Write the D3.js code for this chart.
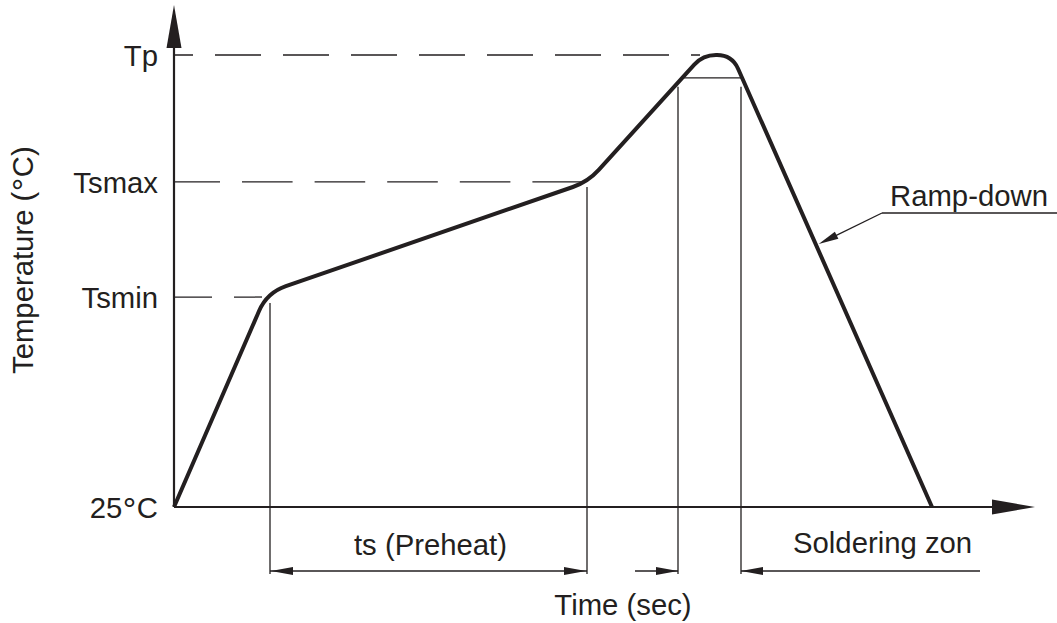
<!DOCTYPE html>
<html><head><meta charset="utf-8">
<script src="https://cdn.jsdelivr.net/npm/d3@7"></script>
<style>
html,body{margin:0;padding:0;background:#fff;}
svg{display:block;}
text{font-family:"Liberation Sans",Arial,Helvetica,sans-serif;fill:#231f20;}
</style></head>
<body>
<svg id="chart" width="1057" height="623"></svg>
<script>
// ---------- data ----------
const tempLabels = ["25°C", "Tsmin", "Tsmax", "Tp"];
const tempValues = [25, 141.6, 205.5, 276];
// reflow profile vertices (time s, temperature °C)
const profileTimes = [0, 46.5, 207, 264.5, 279, 379];
const profileTemps = [25, 144, 205.6, 276, 276, 25];
// dashed guide lines: level and end time
const guideTemps = [141.6, 205.5, 276];
const guideEndTimes = [44, 205, 263];
// vertical marker lines: time and top temperature
const markerTimes = [48, 206.5, 252, 283.5];
const markerTops = [138.3, 202.7, 258.3, 258.3];
// level Tp-5 line
const tpMinus5 = 263.3;
const tpMinus5Times = [254.1, 284.1];
// soldering zone outer arrow tails
const solderLeftTail = 230.5;
const solderRightTail = 403;
// ramp-down pointer target on curve
const rampTargetTemp = 171;

// ---------- layout ----------
const svg = d3.select("#chart");
const ink = "#231f20";
const fs = "29.3px";
const x = d3.scaleLinear().domain([0, 430]).range([174, 1034]);
const y = d3.scaleLinear().domain([25, 276]).range([507, 55]);
const dimY = 571;   // dimension line height (px)
const markerBottom = 574;

function arrowHead(g, tipX, tipY, dirX, dirY, len, half) {
  const n = Math.hypot(dirX, dirY); const ux = dirX / n, uy = dirY / n;
  const bx = tipX - ux * len, by = tipY - uy * len;
  const p = d3.path();
  p.moveTo(tipX, tipY);
  p.lineTo(bx - uy * half, by + ux * half);
  p.lineTo(bx + uy * half, by - ux * half);
  p.closePath();
  g.append("path").attr("d", p.toString()).attr("fill", ink);
}

// dashed guide lines
const dashArrays = ["46,22", "50.6,22", "46,22"];
const dashOffsets = [8, 4.6, 27];
guideTemps.forEach((t, i) => {
  svg.append("line")
    .attr("x1", x(0)).attr("x2", x(guideEndTimes[i]))
    .attr("y1", y(t)).attr("y2", y(t))
    .attr("stroke", ink).attr("stroke-width", 1.3)
    .attr("stroke-dasharray", dashArrays[i])
    .attr("stroke-dashoffset", dashOffsets[i]);
});

// vertical markers
markerTimes.forEach((t, i) => {
  svg.append("line")
    .attr("x1", x(t)).attr("x2", x(t))
    .attr("y1", y(markerTops[i])).attr("y2", markerBottom)
    .attr("stroke", ink).attr("stroke-width", 1.3);
});

// Tp-5 level line
svg.append("line")
  .attr("x1", x(tpMinus5Times[0])).attr("x2", x(tpMinus5Times[1]))
  .attr("y1", y(tpMinus5)).attr("y2", y(tpMinus5))
  .attr("stroke", ink).attr("stroke-width", 1.3);

// axes with arrows
const ax = svg.append("g");
ax.append("line").attr("x1", x(0)).attr("x2", x(0))
  .attr("y1", y(25)).attr("y2", 30)
  .attr("stroke", ink).attr("stroke-width", 2.2);
arrowHead(ax, x(0), 5, 0, -1, 43, 7.5);
ax.append("line").attr("x1", x(0)).attr("x2", 1010)
  .attr("y1", y(25)).attr("y2", y(25))
  .attr("stroke", ink).attr("stroke-width", 2.2);
arrowHead(ax, 1035, y(25), 1, 0, 43, 7.5);

// write text, enlarging degree sign slightly
function degText(sel, str, rotated) {
  sel.text(null);
  const parts = str.split("°");
  sel.append("tspan").text(parts[0]);
  for (let k = 1; k < parts.length; k++) {
    const shift = 2.5;
    const deg = sel.append("tspan").attr("dx", 0.5).style("font-size", "1.15em").text("°");
    const rest = sel.append("tspan").attr("dx", 0.5).style("font-size", "1em").text(parts[k]);
    deg.attr("dy", shift); rest.attr("dy", -shift);
  }
}

// y tick labels via d3 axis
const yAxis = d3.axisLeft(y)
  .tickValues(tempValues)
  .tickFormat((d, i) => tempLabels[i])
  .tickSize(0).tickPadding(16);
const yg = svg.append("g").attr("transform", `translate(${x(0)},0)`).call(yAxis);
yg.select(".domain").remove();
yg.selectAll("text")
  .style("font-family", '"Liberation Sans",Arial,sans-serif')
  .style("font-size", fs).attr("fill", ink)
  .each(function(d, i) {
    const t = d3.select(this);
    if (tempLabels[i].includes("°")) { degText(t, tempLabels[i]); t.attr("dy", null); t.select("tspan").attr("dy", "0.36em"); }
    else t.attr("dy", "0.36em");
  });

// profile curve with rounded corners
const cornerR = [0, 20, 16, 13, 15, 0];
const pts = profileTimes.map((t, i) => [x(t), y(profileTemps[i])]);
const prof = d3.path();
prof.moveTo(pts[0][0], pts[0][1]);
for (let i = 1; i < pts.length - 1; i++) {
  const [cx, cy] = pts[i], [px, py] = pts[i - 1], [nx, ny] = pts[i + 1];
  const d1 = Math.hypot(cx - px, cy - py), d2 = Math.hypot(nx - cx, ny - cy);
  const r = cornerR[i];
  const ax1 = cx - (cx - px) / d1 * r, ay1 = cy - (cy - py) / d1 * r;
  const bx1 = cx + (nx - cx) / d2 * r, by1 = cy + (ny - cy) / d2 * r;
  prof.lineTo(ax1, ay1);
  prof.quadraticCurveTo(cx, cy, bx1, by1);
}
prof.lineTo(pts[pts.length - 1][0], pts[pts.length - 1][1]);
svg.append("path").attr("d", prof.toString())
  .attr("fill", "none").attr("stroke", ink).attr("stroke-width", 4)
  .attr("stroke-linejoin", "round");

// dimension: ts (Preheat)
const dim = svg.append("g");
dim.append("line").attr("x1", x(markerTimes[0])).attr("x2", x(markerTimes[1]))
  .attr("y1", dimY).attr("y2", dimY).attr("stroke", ink).attr("stroke-width", 1.3);
arrowHead(dim, x(markerTimes[0]) + 1, dimY, -1, 0, 22, 4);
arrowHead(dim, x(markerTimes[1]) - 1, dimY, 1, 0, 22, 4);
dim.append("text").attr("x", (x(markerTimes[0]) + x(markerTimes[1])) / 2 + 2)
  .attr("y", 555).attr("text-anchor", "middle")
  .style("font-size", fs).text("ts (Preheat)");

// dimension: soldering zone
dim.append("line").attr("x1", x(solderLeftTail)).attr("x2", x(markerTimes[2]))
  .attr("y1", dimY).attr("y2", dimY).attr("stroke", ink).attr("stroke-width", 1.3);
arrowHead(dim, x(markerTimes[2]), dimY, 1, 0, 22, 4);
dim.append("line").attr("x1", x(markerTimes[3])).attr("x2", x(solderRightTail))
  .attr("y1", dimY).attr("y2", dimY).attr("stroke", ink).attr("stroke-width", 1.3);
arrowHead(dim, x(markerTimes[3]), dimY, -1, 0, 22, 4);
dim.append("text").attr("x", 793).attr("y", 553)
  .style("font-size", fs).text("Soldering zon");

// ramp-down callout
const tRamp = profileTimes[4] + (profileTemps[4] - rampTargetTemp) /
  (profileTemps[4] - profileTemps[5]) * (profileTimes[5] - profileTimes[4]);
const tipX = x(tRamp) + 3, tipY = y(rampTargetTemp);
const callX = 882, callY = 213;
svg.append("line").attr("x1", callX).attr("y1", callY).attr("x2", 1057).attr("y2", callY)
  .attr("stroke", ink).attr("stroke-width", 1.3);
svg.append("line").attr("x1", callX).attr("y1", callY).attr("x2", tipX + 10).attr("y2", tipY - 5)
  .attr("stroke", ink).attr("stroke-width", 1.3);
arrowHead(svg, tipX, tipY, tipX - callX, tipY - callY, 20, 4);
svg.append("text").attr("x", 890).attr("y", 206)
  .style("font-size", fs).text("Ramp-down");

// axis titles
svg.append("text").attr("x", 623).attr("y", 615).attr("text-anchor", "middle")
  .style("font-size", fs).text("Time (sec)");
const yt = svg.append("text").attr("transform", "translate(33,374) rotate(-90)")
  .attr("text-anchor", "start").style("font-size", fs);
degText(yt, "Temperature (°C)");
</script>
</body></html>
